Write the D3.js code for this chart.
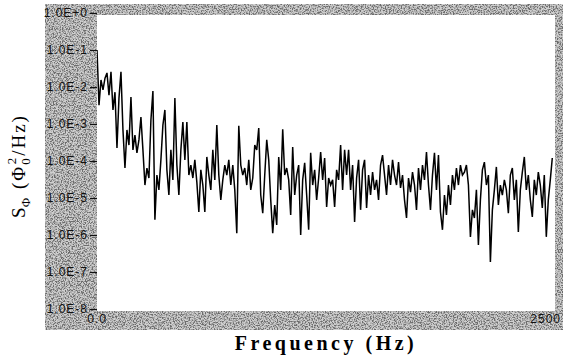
<!DOCTYPE html>
<html>
<head>
<meta charset="utf-8">
<script src="https://cdn.jsdelivr.net/npm/d3@7"></script>
<style>
  body { margin: 0; background: #fff; }
  svg { display: block; }
</style>
</head>
<body>
<div id="chart"></div>
<script>
/* Flux noise spectrum S_Phi vs frequency */

// frequency resolution of the spectrum (Hz per bin)
const freqStep = 10.9;

// log10 of S_Phi for each bin
const logS = [
  -1.00,-2.49,-1.81,-2.08,-1.76,-1.62,-2.22,-1.59,-2.62,-2.14,
  -3.65,-2.30,-1.59,-3.16,-4.19,-3.16,-3.57,-2.27,-3.70,-3.30,
  -3.78,-3.43,-2.81,-3.70,-4.65,-4.19,-4.46,-2.89,-2.11,-5.59,
  -4.38,-4.78,-3.97,-3.03,-2.62,-4.24,-4.92,-3.70,-4.51,-2.30,
  -4.11,-4.92,-3.70,-2.95,-3.97,-2.95,-4.38,-4.11,-4.46,-3.97,
  -4.57,-5.38,-4.24,-4.65,-5.38,-3.89,-4.38,-4.78,-3.70,-4.51,
  -3.03,-4.38,-5.05,-4.51,-4.11,-4.38,-3.97,-4.65,-4.11,-4.78,
  -5.95,-3.05,-4.11,-4.38,-4.19,-4.65,-3.97,-4.78,-4.46,-3.57,
  -3.70,-3.11,-4.92,-5.41,-4.38,-3.43,-3.97,-5.05,-5.95,-5.19,
  -5.73,-3.89,-4.78,-3.14,-4.38,-4.19,-4.51,-5.46,-3.62,-4.92,
  -4.38,-4.11,-6.00,-4.51,-4.05,-4.92,-5.86,-3.78,-4.65,-4.24,
  -5.05,-4.46,-3.76,-4.51,-3.92,-5.24,-4.46,-4.65,-4.51,-5.24,
  -4.24,-4.51,-3.57,-4.78,-3.70,-4.38,-3.70,-4.78,-4.11,-5.65,
  -4.46,-3.97,-5.32,-4.24,-3.97,-5.27,-4.38,-4.92,-4.30,-4.78,
  -4.51,-5.05,-4.11,-3.84,-4.38,-4.92,-4.11,-4.65,-3.97,-4.38,
  -4.65,-4.03,-4.73,-4.38,-5.05,-5.54,-4.46,-4.84,-4.30,-4.65,
  -5.32,-4.19,-4.78,-4.11,-4.51,-3.76,-4.65,-5.32,-4.38,-3.78,
  -4.78,-3.84,-5.38,-5.86,-4.92,-5.46,-4.65,-5.19,-4.38,-4.78,
  -4.19,-4.65,-4.11,-4.38,-4.30,-4.11,-4.65,-6.05,-5.32,-5.54,
  -4.78,-6.27,-5.05,-4.24,-4.03,-4.65,-4.38,-6.73,-5.32,-4.78,
  -4.16,-5.19,-4.65,-4.92,-4.51,-4.78,-5.41,-4.38,-4.19,-5.05,
  -4.51,-5.92,-4.78,-4.30,-3.89,-4.78,-4.38,-5.05,-5.51,-4.51,
  -4.92,-4.30,-4.65,-5.27,-4.38,-6.05,-5.05,-4.51,-3.92
];

const yTicks = [1, 1e-1, 1e-2, 1e-3, 1e-4, 1e-5, 1e-6, 1e-7, 1e-8];
const yTickLabels = ["1.0E+0", "1.0E-1", "1.0E-2", "1.0E-3", "1.0E-4",
                     "1.0E-5", "1.0E-6", "1.0E-7", "1.0E-8"];
const xTicks = [0, 2500];
const xTickLabels = ["0.0", "2500"];

const data = logS.map((v, i) => ({ f: i * freqStep, s: Math.pow(10, v) }));

const width = 566,
      height = 357,
      plot = { left: 97, right: 555, top: 15, bottom: 311 };

let svg = d3.select("#chart")
    .append("svg")
    .attr("width", width)
    .attr("height", height);

let defs = svg.append("defs");

// speckled grey like the scanned frame
let grain = defs.append("filter")
    .attr("id", "grain")
    .attr("x", 0).attr("y", 0).attr("width", 1).attr("height", 1);
grain.append("feTurbulence")
    .attr("type", "fractalNoise")
    .attr("baseFrequency", 0.75)
    .attr("numOctaves", 2)
    .attr("seed", 7)
    .attr("result", "noise");
grain.append("feColorMatrix")
    .attr("in", "noise")
    .attr("type", "matrix")
    .attr("values", "0 0 0 0 0.15  0 0 0 0 0.15  0 0 0 0 0.15  4 0 0 0 -1.6")
    .attr("result", "dots");
grain.append("feComposite")
    .attr("in", "dots").attr("in2", "SourceGraphic")
    .attr("operator", "in")
    .attr("result", "clipped");
let merge = grain.append("feMerge");
merge.append("feMergeNode").attr("in", "SourceGraphic");
merge.append("feMergeNode").attr("in", "clipped");

defs.append("clipPath")
    .attr("id", "plot-clip")
    .append("rect")
    .attr("x", plot.left).attr("y", plot.top)
    .attr("width", plot.right - plot.left)
    .attr("height", plot.bottom - plot.top);

// grey frame = outer box minus the white plot area
svg.append("path")
    .attr("d", `M45,4H563V330H45Z M${plot.left},${plot.top}V${plot.bottom}H${plot.right}V${plot.top}Z`)
    .attr("fill", "#d0d0d0")
    .attr("fill-rule", "evenodd")
    .attr("filter", "url(#grain)");

let x = d3.scaleLinear()
    .domain([0, 2500])
    .range([plot.left, plot.right]);

let y = d3.scaleLog()
    .domain([1e-8, 1])
    .range([309, 13]);

// y axis
let yAxis = svg.append("g")
    .attr("transform", `translate(${plot.left},0)`)
    .call(d3.axisLeft(y)
        .tickValues(yTicks)
        .tickFormat((d, i) => yTickLabels[i])
        .tickSize(7)
        .tickPadding(2));
yAxis.select(".domain").remove();
yAxis.selectAll("line").attr("stroke", "#111").attr("stroke-width", 1.2);
yAxis.selectAll("text")
    .attr("fill", "#111")
    .style("font-family", "'Liberation Sans', Arial, sans-serif")
    .style("font-size", "12px")
    .style("letter-spacing", "1px");

// x tick labels
svg.selectAll(".xlab")
    .data(xTicks)
    .join("text")
    .attr("class", "xlab")
    .attr("x", (d, i) => i == 0 ? x(d) : x(d) + 6)
    .attr("y", 323)
    .attr("text-anchor", (d, i) => i == 0 ? "middle" : "end")
    .attr("fill", "#111")
    .style("font-family", "'Liberation Sans', Arial, sans-serif")
    .style("font-size", "12px")
    .style("letter-spacing", "1px")
    .text((d, i) => xTickLabels[i]);

// spectrum trace
let line = d3.line()
    .x(d => x(d.f))
    .y(d => y(d.s));

svg.append("path")
    .datum(data)
    .attr("clip-path", "url(#plot-clip)")
    .attr("fill", "none")
    .attr("stroke", "#000")
    .attr("stroke-width", 1.5)
    .attr("stroke-linejoin", "miter")
    .attr("d", line);

// axis titles
svg.append("text")
    .attr("x", 326)
    .attr("y", 350)
    .attr("text-anchor", "middle")
    .style("font-family", "'Liberation Serif', 'Times New Roman', serif")
    .style("font-weight", "bold")
    .style("font-size", "20px")
    .style("letter-spacing", "3.5px")
    .text("Frequency (Hz)");

let ylab = svg.append("text")
    .attr("transform", "translate(25,166) rotate(-90)")
    .attr("text-anchor", "middle")
    .style("font-family", "'Liberation Serif', 'Times New Roman', serif")
    .style("font-size", "19px")
    .style("letter-spacing", "2px");
ylab.append("tspan").text("S");
ylab.append("tspan").attr("dy", 5).attr("dx", -2).style("font-size", "13px").text("\u03A6");
ylab.append("tspan").attr("dy", -5).text(" (\u03A6");
ylab.append("tspan").attr("dy", 5).style("font-size", "13px").text("0");
ylab.append("tspan").attr("dy", -14).attr("dx", -8).style("font-size", "13px").text("2");
ylab.append("tspan").attr("dy", 9).text("/Hz)");
</script>
</body>
</html>
